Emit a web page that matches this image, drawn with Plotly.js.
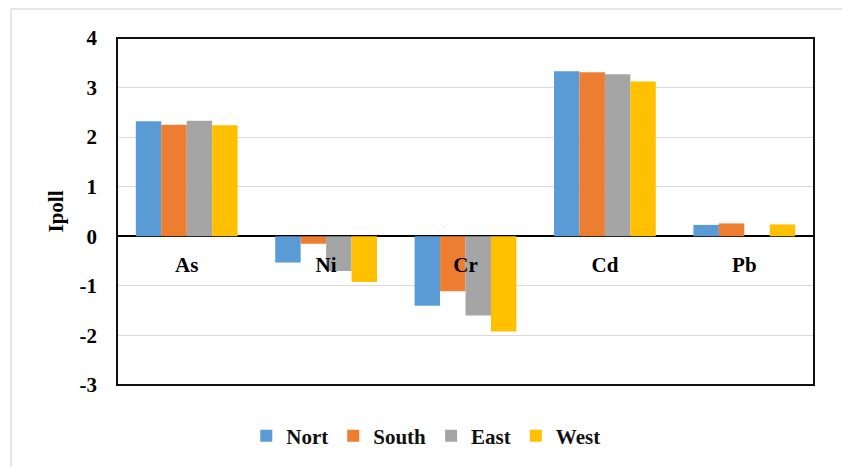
<!DOCTYPE html>
<html>
<head>
<meta charset="utf-8">
<script src="https://cdn.plot.ly/plotly-3.0.1.min.js"></script>
<style>
  html, body { margin: 0; padding: 0; background: #ffffff; }
  #chart { width: 842px; height: 467px; }
</style>
</head>
<body>
<div id="chart"></div>
<script>
// Pollution index (Ipoll) of each heavy metal by region
const metals = ["As", "Ni", "Cr", "Cd", "Pb"];
const regions = ["Nort", "South", "East", "West"];
const nort  = [2.32, -0.53, -1.40, 3.33, 0.23];
const south = [2.25, -0.15, -1.11, 3.31, 0.26];
const east  = [2.33, -0.70, -1.60, 3.27, 0.00];
const west  = [2.24, -0.92, -1.92, 3.12, 0.24];
const yTicks = [-3, -2, -1, 0, 1, 2, 3, 4];

const seriesValues = [nort, south, east, west];
const colors = ["#5B9BD5", "#ED7D31", "#A5A5A5", "#FFC000"];
const serif = "Liberation Serif";

const traces = regions.map((name, i) => ({
  type: "bar",
  name: name,
  x: metals,
  y: seriesValues[i],
  marker: { color: colors[i], line: { width: 0 } },
  hoverinfo: "skip"
}));

const layout = {
  width: 842,
  height: 467,
  margin: { l: 117, r: 28, t: 38, b: 81 },
  paper_bgcolor: "#ffffff",
  plot_bgcolor: "#ffffff",
  barmode: "group",
  bargap: 0.27,
  bargroupgap: 0,
  font: { family: serif, size: 18, color: "#000000", weight: "bold" },
  showlegend: true,
  legend: {
    orientation: "h",
    x: 0.443, xanchor: "center",
    y: -0.144, yanchor: "middle",
    font: { family: serif, size: 21, color: "#111111", weight: "bold" },
    itemclick: false, itemdoubleclick: false,
    traceorder: "normal"
  },
  xaxis: {
    type: "category",
    anchor: "free",
    position: 3 / 7,
    showline: false,
    showgrid: false,
    zeroline: false,
    ticks: "",
    ticklabelstandoff: 14,
    tickfont: { family: serif, size: 21, color: "#000000", weight: "bold" },
    fixedrange: true
  },
  yaxis: {
    range: [-3, 4],
    tickvals: yTicks,
    ticktext: yTicks.map(String),
    showgrid: true,
    gridcolor: "#d9d9d9",
    gridwidth: 1,
    zeroline: true,
    zerolinecolor: "#000000",
    zerolinewidth: 2,
    showline: false,
    ticks: "",
    ticklabelstandoff: 19,
    tickfont: { family: serif, size: 21, color: "#000000", weight: "bold" },
    title: {
      text: "Ipoll",
      standoff: 10,
      font: { family: serif, size: 21, color: "#000000", weight: "bold" }
    },
    automargin: false,
    fixedrange: true
  },
  shapes: [
    // frame around the plotting area
    { type: "rect", xref: "paper", yref: "paper", x0: 0, x1: 1, y0: 0, y1: 1,
      line: { color: "#111111", width: 2 }, fillcolor: "rgba(0,0,0,0)", layer: "above" },
    // light outer border (top and left edges)
    { type: "line", xref: "paper", yref: "paper",
      x0: (11 - 117) / 697, x1: (842 - 117) / 697, y0: (386 - 9) / 348, y1: (386 - 9) / 348,
      line: { color: "#e6e6e6", width: 2 } },
    { type: "line", xref: "paper", yref: "paper",
      x0: (11 - 117) / 697, x1: (11 - 117) / 697, y0: (386 - 9) / 348, y1: (386 - 470) / 348,
      line: { color: "#e6e6e6", width: 2 } }
  ]
};

Plotly.newPlot("chart", traces, layout, { displayModeBar: false, staticPlot: true });
</script>
</body>
</html>
